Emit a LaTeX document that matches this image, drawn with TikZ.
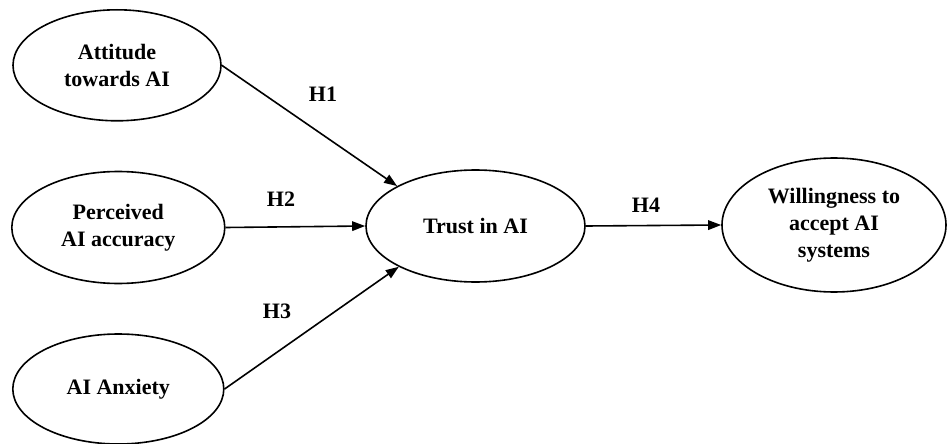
\documentclass[tikz,border=0pt]{standalone}
\usepackage{fontspec}
\setmainfont{Liberation Serif}
\usetikzlibrary{shapes.geometric,arrows.meta}
\begin{document}
\begin{tikzpicture}[x=1pt,y=-1pt,
  construct/.style={ellipse,draw,line width=1.6pt,inner sep=0pt,align=center,
    font=\bfseries\fontsize{22}{27}\selectfont},
  hyp/.style={font=\bfseries\fontsize{22}{27}\selectfont,inner sep=0pt},
  link/.style={line width=1.6pt,-{Triangle[length=13pt,width=9.5pt]}}]
\useasboundingbox (0,0) rectangle (951,444);
\node[construct,minimum width=208pt,minimum height=111pt] (att) at (117,65.3) {Attitude\\towards AI};
\node[construct,minimum width=213pt,minimum height=112pt] (acc) at (118.3,227.5) {Perceived\\AI accuracy};
\node[construct,minimum width=211pt,minimum height=110pt] (anx) at (118.3,389) {AI Anxiety};
\node[construct,minimum width=219pt,minimum height=112pt] (trust) at (475.5,226) {Trust in AI};
\node[construct,minimum width=224pt,minimum height=134pt] (will) at (834,225) {Willingness to\\accept AI\\systems};
\draw[link] (att.east) -- (trust.153);
\draw[link] (acc.east) -- (trust.west);
\draw[link] (anx.east) -- (trust.208);
\draw[link] (trust.east) -- (will.west);
\node[hyp] (h1) at (323,94) {H1};
\node[hyp] (h2) at (281,199) {H2};
\node[hyp] (h3) at (277,311) {H3};
\node[hyp] (h4) at (646,205) {H4};
\end{tikzpicture}
\end{document}
